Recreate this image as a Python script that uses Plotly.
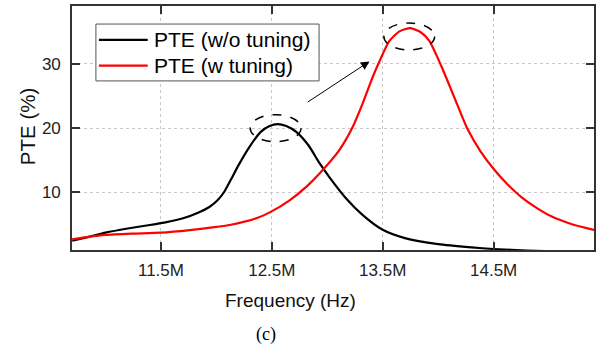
import plotly.graph_objects as go

# Frequency samples (MHz) and power-transfer efficiency (%) without tuning
freq_wo_mhz = [10.70, 10.85, 11.00, 11.20, 11.40, 11.55, 11.70, 11.84, 11.94,
               12.01, 12.07, 12.13, 12.20, 12.30, 12.40, 12.48, 12.55, 12.63,
               12.72, 12.83, 12.93, 13.02, 13.17, 13.32, 13.50, 13.70, 14.00,
               14.30, 14.50, 14.80, 15.41]
pte_wo = [2.4, 3.0, 3.65, 4.3, 4.85, 5.3, 5.9, 6.8, 7.7,
          8.7, 10.0, 11.9, 14.2, 17.1, 19.4, 20.3, 20.6, 20.3,
          19.4, 17.3, 14.5, 12.3, 9.0, 6.4, 4.1, 2.8, 1.85,
          1.35, 1.1, 0.85, 0.55]

# ... and with tuning
freq_w_mhz = [10.70, 10.85, 11.00, 11.25, 11.50, 11.76, 12.00, 12.12, 12.36,
              12.49, 12.66, 12.81, 12.93, 13.11, 13.23, 13.32, 13.41, 13.47,
              13.56, 13.65, 13.75, 13.84, 13.92, 14.03, 14.15, 14.26, 14.38,
              14.51, 14.62, 14.75, 14.88, 15.02, 15.20, 15.41]
pte_w = [2.6, 3.0, 3.3, 3.5, 3.65, 4.05, 4.55, 4.85, 5.9,
         6.9, 8.7, 10.8, 12.9, 16.6, 20.2, 23.9, 28.0, 30.4,
         33.6, 35.1, 35.6, 35.0, 33.6, 29.6, 24.6, 20.0, 16.4,
         13.4, 11.3, 9.2, 7.6, 6.2, 5.0, 4.05]

series_names = ["PTE (w/o tuning)", "PTE (w tuning)"]
series_colors = ["black", "#ff0000"]

x_ticks_mhz = [11.5, 12.5, 13.5, 14.5]
x_tick_labels = ["11.5M", "12.5M", "13.5M", "14.5M"]
y_ticks = [10, 20, 30]

SANS = "Liberation Sans, Arial"


def to_hz(seq):
    return [v * 1e6 for v in seq]


fig = go.Figure()
for fx, fy, name, color in [(freq_wo_mhz, pte_wo, series_names[0], series_colors[0]),
                            (freq_w_mhz, pte_w, series_names[1], series_colors[1])]:
    fig.add_trace(go.Scatter(x=to_hz(fx), y=fy, mode="lines", name=name,
                             showlegend=False,
                             line=dict(color=color, width=2.2, shape="spline", smoothing=0.6)))


# Dashed ellipses around both resonance peaks
def peak(xs, ys):
    i = max(range(len(ys)), key=lambda k: ys[k])
    return xs[i], ys[i]


for (pkx, pky), (l, r, below, above) in [(peak(freq_wo_mhz, pte_wo), (0.245, 0.213, 2.73, 1.48)),
                                         (peak(freq_w_mhz, pte_w), (0.24, 0.218, 3.4, 0.8))]:
    fig.add_shape(type="circle", xref="x", yref="y",
                  x0=(pkx - l) * 1e6, x1=(pkx + r) * 1e6, y0=pky - below, y1=pky + above,
                  line=dict(color="black", width=1.5, dash="dash"))

# Arrow pointing from the untuned peak towards the tuned peak
fig.add_annotation(x=13.38e6, y=30.4, ax=12.81e6, ay=23.9,
                   xref="x", yref="y", axref="x", ayref="y",
                   showarrow=True, arrowhead=2, arrowsize=1.7, arrowwidth=1,
                   arrowcolor="black", text="")

# Boxed legend in the upper-left corner of the plot area
fig.add_shape(type="rect", xref="paper", yref="paper",
              x0=0.0458, x1=0.4733, y0=0.693, y1=0.926,
              line=dict(color="#555555", width=1), fillcolor="white", layer="above")
for row_y, name, color in zip([0.861, 0.756], series_names, series_colors):
    fig.add_shape(type="line", xref="paper", yref="paper",
                  x0=0.0515, x1=0.145, y0=row_y, y1=row_y,
                  line=dict(color=color, width=2.2), layer="above")
    fig.add_annotation(text=name, xref="paper", yref="paper", x=0.154, y=row_y,
                       xanchor="left", yanchor="middle", showarrow=False,
                       font=dict(family=SANS, size=21, color="black"))

# Axis titles and panel label
fig.add_annotation(text="Frequency (Hz)", xref="paper", yref="paper", x=0.418, y=-0.205,
                   xanchor="center", yanchor="middle", showarrow=False,
                   font=dict(family=SANS, size=19, color="#111111"))
fig.add_annotation(text="PTE (%)", xref="paper", yref="paper", x=-0.0859, y=0.504,
                   xanchor="center", yanchor="middle", textangle=-90, showarrow=False,
                   font=dict(family=SANS, size=20.5, color="#111111"))
fig.add_annotation(text="(c)", xref="paper", yref="paper", x=0.372, y=-0.348,
                   xanchor="center", yanchor="middle", showarrow=False,
                   font=dict(family="Liberation Serif, Times New Roman", size=18, color="black"))

axis_common = dict(showline=True, linecolor="#333333", linewidth=1.6, mirror="ticks",
                   ticks="inside", ticklen=8, tickwidth=1.5, tickcolor="#333333",
                   showgrid=True, gridcolor="#c8c8c8", griddash="dot", gridwidth=1,
                   zeroline=False,
                   tickfont=dict(family=SANS, size=17, color="#222222"))

fig.update_xaxes(range=[10.698e6, 15.405e6], tickvals=to_hz(x_ticks_mhz),
                 ticktext=x_tick_labels, ticklabelstandoff=4, **axis_common)
fig.update_yaxes(range=[0.94, 39.06], tickvals=y_ticks, ticklabelstandoff=6, **axis_common)

fig.update_layout(
    width=599, height=350,
    margin=dict(l=72, r=3, t=6, b=100),
    paper_bgcolor="white", plot_bgcolor="white",
    showlegend=False,
)

fig.write_html("out.html")
